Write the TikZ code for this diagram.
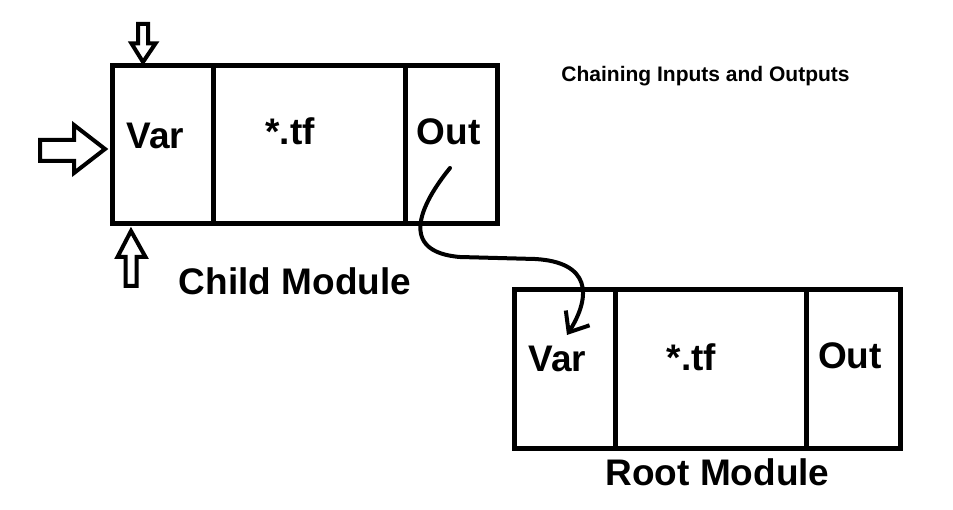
\documentclass[tikz,border=0pt]{standalone}
\usepackage{fontspec}
\setmainfont{Liberation Sans}
\usetikzlibrary{arrows.meta}
\begin{document}
\begin{tikzpicture}[x=1pt,y=-1pt,
  cell/.style={draw, line width=5pt, minimum height=158pt, inner sep=0pt, outer sep=0pt, anchor=north west},
  big/.style={font=\fontsize{37}{40}\selectfont\bfseries, inner sep=0pt, anchor=base},
  titletext/.style={font=\fontsize{21}{24}\selectfont\bfseries, inner sep=0pt, anchor=base},
  hollow/.style={draw, line width=4pt, line join=miter, fill=white},
  link/.style={draw, line width=4pt, line cap=round, -{Straight Barb[length=17pt,width=28pt]}}]
\useasboundingbox[fill=white] (0,0) rectangle (953,510);
% child module cells
\node[cell, minimum width=101pt] (cvar) at (112,66) {};
\node[cell, minimum width=192pt] (ctf) at (213,66) {};
\node[cell, minimum width=92pt] (cout) at (405,66) {};
% root module cells
\node[cell, minimum width=101pt] (rvar) at (514,290) {};
\node[cell, minimum width=191pt] (rtf) at (615,290) {};
\node[cell, minimum width=94pt] (rout) at (806,290) {};
% texts
\node[big] (tcvar) at (155.5,149) {Var};
\node[big] (tctf) at (290,145) {*.tf};
\node[big] (tcout) at (448.5,145) {Out};
\node[big] (tchild) at (295,295) {Child Module};
\node[big] (trvar) at (557.5,372) {Var};
\node[big] (trtf) at (691.5,371) {*.tf};
\node[big] (trout) at (850,369) {Out};
\node[big] (troot) at (717.5,485) {Root Module};
\node[titletext] (ttitle) at (705.5,82) {Chaining Inputs and Outputs};
% hollow input arrows
\draw[hollow] (40,140) -- (74,140) -- (74,125) -- (105,149) -- (74,173) -- (74,161) -- (40,161) -- cycle;
\draw[hollow] (138,24) -- (148,24) -- (148,43.5) -- (155.5,43.5) -- (143,62) -- (131.5,43.5) -- (138,43.5) -- cycle;
\draw[hollow] (125.5,286) -- (136.5,286) -- (136.5,257) -- (145.5,257) -- (131,231) -- (117.5,257) -- (125.5,257) -- cycle;
% chaining connector
\coordinate (cs) at (450,168);
\coordinate (ce) at (567,335);
\draw[link] (cs) .. controls (420,205) and (398,252) .. (460,257) -- (535,259) .. controls (590,262) and (592,295) .. (ce);
\end{tikzpicture}
\end{document}
